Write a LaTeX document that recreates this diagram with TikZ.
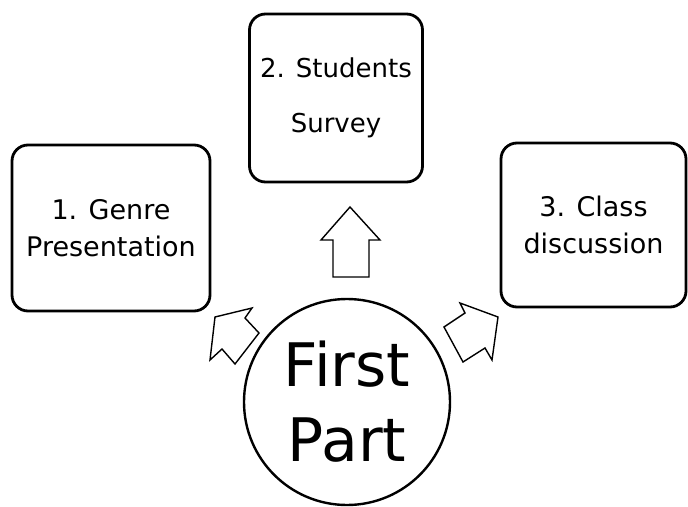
\documentclass[tikz,border=0pt]{standalone}
\usepackage{fontspec}
\setmainfont{DejaVu Sans}
\begin{document}
\begin{tikzpicture}[x=1pt,y=-1pt,
  box/.style={draw, line width=2.8pt, rounded corners=16pt, align=center, inner sep=0pt},
  boxfont/.style={font=\fontsize{27}{37}\selectfont},
  blockarrow/.style={draw, line width=1.4pt, line join=miter, fill=white}]
\useasboundingbox (0,0) rectangle (688,506);
\node[box, boxfont, minimum width=198pt, minimum height=166pt] (genre) at (111,228) {1. Genre\\Presentation};
\node[box, font=\fontsize{26}{55}\selectfont, minimum width=173pt, minimum height=168pt] (survey) at (336,98) {2. Students\\Survey};
\node[box, boxfont, minimum width=185pt, minimum height=164pt] (class) at (593.5,225) {3. Class\\discussion};
\node[draw, circle, line width=2.4pt, minimum size=206pt, inner sep=0pt, align=center, font=\fontsize{60}{75}\selectfont] (part) at (347,402) {First\\Part};
% block arrows
\draw[blockarrow] (350,207) -- (380,240) -- (369,240) -- (369,277) -- (333,277) -- (333,240) -- (321,240) -- cycle;
\draw[blockarrow] (215,317) -- (252,308) -- (245,318) -- (259,333) -- (235,364) -- (222,349) -- (210,360) -- cycle;
\draw[blockarrow] (498,317) -- (492,360) -- (485,348) -- (463,362) -- (444,327) -- (465,313) -- (460,303) -- cycle;
\end{tikzpicture}
\end{document}
